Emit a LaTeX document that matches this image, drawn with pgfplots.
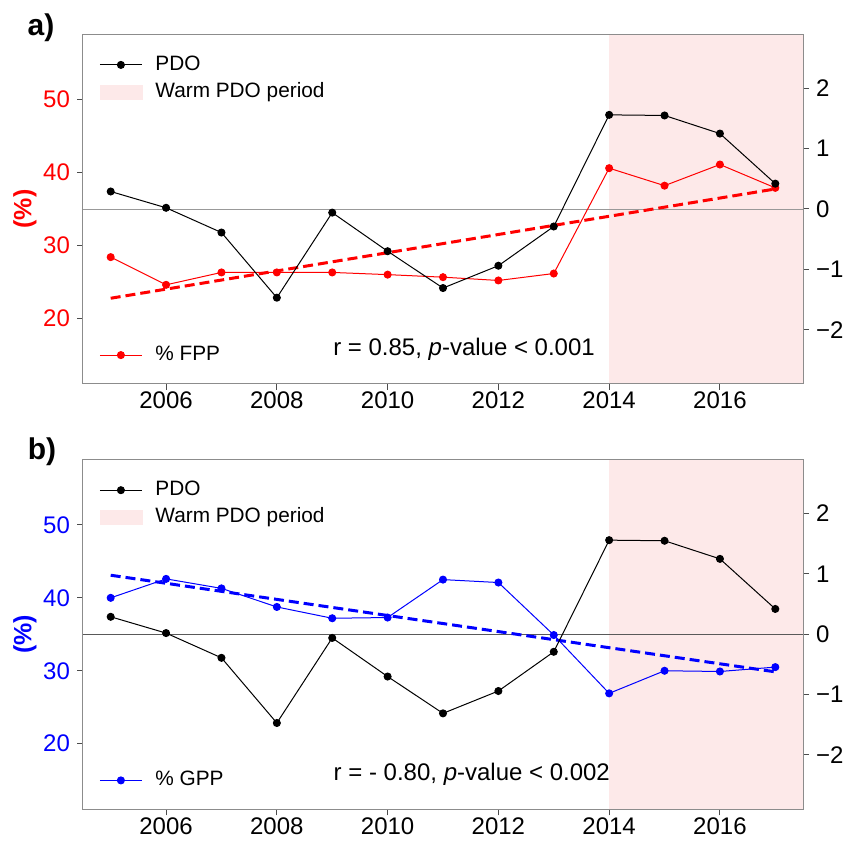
\documentclass[border=0pt]{standalone}
\usepackage{fontspec}
\setmainfont{Liberation Sans}
\usepackage{pgfplots}
\pgfplotsset{compat=1.18}
\definecolor{warm}{RGB}{253,233,233}
\definecolor{framec}{RGB}{140,140,140}

\pgfplotstableread{
year pdo fpp gpp
2005 0.29 28.4 40.0
2006 0.02 24.6 42.6
2007 -0.39 26.3 41.3
2008 -1.47 26.3 38.75
2009 -0.06 26.3 37.2
2010 -0.70 26.0 37.3
2011 -1.31 25.65 42.5
2012 -0.94 25.2 42.1
2013 -0.29 26.15 34.9
2014 1.56 40.6 26.9
2015 1.55 38.2 30.0
2016 1.25 41.1 29.9
2017 0.42 37.9 30.5
}\datatable

\pgfplotsset{
 base/.style={scale only axis, width=360pt, height=175pt,
   xmin=2004.5, xmax=2017.5, anchor=north west,
   tick align=outside, major tick length=3pt,
   axis line style={framec, line width=0.5pt},
   every tick/.style={black!70, line width=0.5pt},
   tick label style={font=\fontsize{12}{14}\selectfont},
   legend cell align=left,
   legend style={draw=none, fill=none, inner sep=0pt,
     font=\fontsize{10.4}{12}\selectfont, column sep=5.5pt, row sep=2pt,
     nodes={inner sep=1pt, text height=7.5pt, text depth=2pt}},
   legend image code/.code={\draw[mark repeat=2,mark phase=2,#1] plot coordinates {(0pt,0pt)(10.5pt,0pt)(21pt,0pt)};}
 },
 leftax/.style={base, ymin=11, ymax=59, ytick={20,30,40,50}, yticklabels={20,30,40,50},
   xtick={2006,2008,2010,2012,2014,2016}, xticklabels={2006,2008,2010,2012,2014,2016},
   xticklabel style={yshift=2.5pt},
   xtick pos=left, ytick pos=left, axis on top,
   ylabel style={at={(axis description cs:-0.0806,0.5)}, anchor=center, font=\fontsize{12.5}{14}\selectfont\bfseries},
   legend style={at={(axis description cs:0,0)}, anchor=south west, xshift=8pt, yshift=8.5pt}
 },
 rightax/.style={base, ymin=-2.9, ymax=2.9, axis y line*=right, axis x line=none,
   ytick={-2,-1,0,1,2}, yticklabels={−2,−1,0,1,2},
   legend style={at={(axis description cs:0,1)}, anchor=north west, xshift=8pt, yshift=-9.5pt}
 }
}

\begin{document}
\begin{tikzpicture}
\useasboundingbox (0,0) rectangle (421.5pt,-420.5pt);
% ---------- panel a ----------
\begin{axis}[leftax, name=a1, at={(41.5pt,-17pt)},
  yticklabel style={red}, ylabel={(\%)}, ylabel style={red}]
\fill[warm] (axis cs:2014,11) rectangle (axis cs:2017.5,59);
\addplot[black!40, line width=0.5pt, forget plot] coordinates {(2004.5,35) (2017.5,35)};
\addplot[red, line width=0.5pt, mark=*, mark size=1.75pt] table[x=year,y=fpp] {\datatable};
\addlegendentry{\% FPP}
\addplot[red, line width=1.5pt, dash pattern=on 5pt off 2.5pt, forget plot] coordinates {(2005,22.76) (2017,37.75)};
\node[anchor=base, font=\fontsize{12}{14}\selectfont] at (axis cs:2011.38,14.85) {r = 0.85, \textit{p}-value < 0.001};
\end{axis}
\begin{axis}[rightax, at={(41.5pt,-17pt)}]
\addplot[black, line width=0.5pt, mark=*, mark size=1.75pt] table[x=year,y=pdo] {\datatable};
\addlegendentry{PDO}
\addlegendimage{legend image code/.code={\fill[warm] (0pt,-3.5pt) rectangle (21pt,3.5pt);}}
\addlegendentry{Warm PDO period}
\end{axis}
% ---------- panel b ----------
\begin{axis}[leftax, name=b1, at={(41.5pt,-229.65pt)},
  yticklabel style={blue}, ylabel={(\%)}, ylabel style={blue}]
\fill[warm] (axis cs:2014,11) rectangle (axis cs:2017.5,59);
\addplot[black!65, line width=0.5pt, forget plot] coordinates {(2004.5,35) (2017.5,35)};
\addplot[blue, line width=0.5pt, mark=*, mark size=1.75pt] table[x=year,y=gpp] {\datatable};
\addlegendentry{\% GPP}
\addplot[blue, line width=1.5pt, dash pattern=on 5pt off 2.5pt, forget plot] coordinates {(2005,43.1) (2017,29.85)};
\node[anchor=base, font=\fontsize{12}{14}\selectfont] at (axis cs:2011.52,14.9) {r = - 0.80, \textit{p}-value < 0.002};
\end{axis}
\begin{axis}[rightax, at={(41.5pt,-229.65pt)}]
\addplot[black, line width=0.5pt, mark=*, mark size=1.75pt] table[x=year,y=pdo] {\datatable};
\addlegendentry{PDO}
\addlegendimage{legend image code/.code={\fill[warm] (0pt,-3.5pt) rectangle (21pt,3.5pt);}}
\addlegendentry{Warm PDO period}
\end{axis}
\node[font=\fontsize{15}{18}\selectfont\bfseries] at ([xshift=-21pt,yshift=3pt]a1.north west) {a)};
\node[font=\fontsize{15}{18}\selectfont\bfseries] at ([xshift=-20.5pt,yshift=3.6pt]b1.north west) {b)};
\end{tikzpicture}
\end{document}
